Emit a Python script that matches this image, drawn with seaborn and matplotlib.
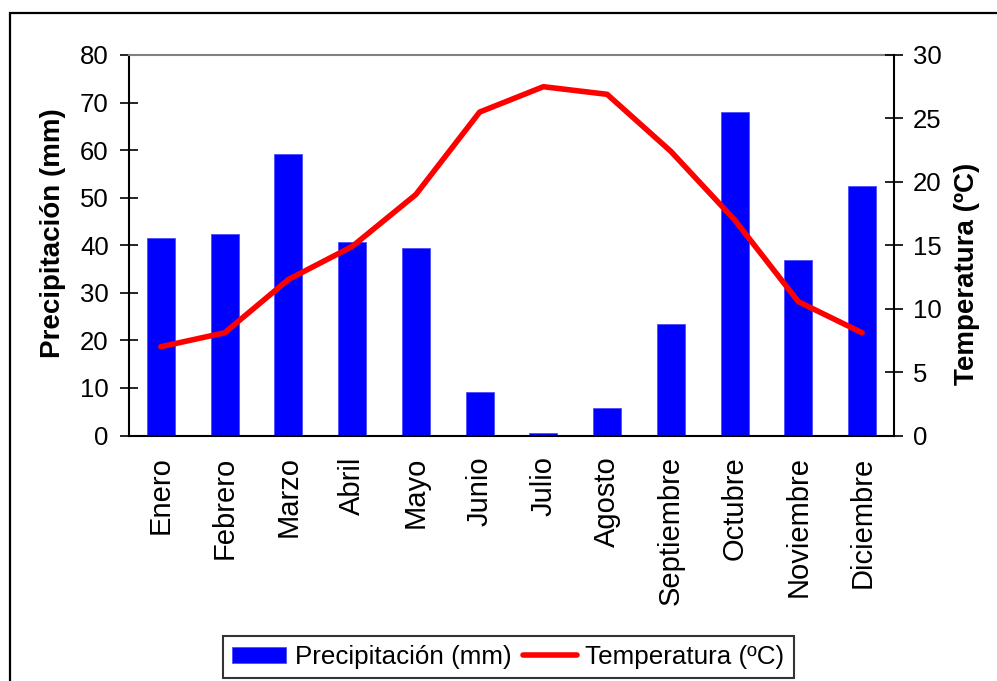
import numpy as np
import matplotlib
matplotlib.use("Agg")
import matplotlib.pyplot as plt
from matplotlib.patches import Rectangle
import seaborn as sns

# Monthly climate data
months = ["Enero", "Febrero", "Marzo", "Abril", "Mayo", "Junio", "Julio",
          "Agosto", "Septiembre", "Octubre", "Noviembre", "Diciembre"]
precip_mm = [41.5, 42.4, 59.2, 40.7, 39.4, 9.1, 0.6, 5.7, 23.4, 68.1, 36.9, 52.5]
temp_c = [7.0, 8.1, 12.3, 14.9, 19.0, 25.5, 27.5, 26.9, 22.4, 17.0, 10.55, 8.1]

precip_ticks = [0, 10, 20, 30, 40, 50, 60, 70, 80]
temp_ticks = [0, 5, 10, 15, 20, 25, 30]

sns.set_theme(style="white")
plt.rcParams["font.family"] = ["Liberation Sans", "DejaVu Sans"]
plt.rcParams.update({"text.color": "black", "axes.labelcolor": "black",
                     "xtick.color": "black", "ytick.color": "black"})

W, H = 997, 681
fig = plt.figure(figsize=(W / 100, H / 100), dpi=100)
ax = fig.add_axes([129 / W, 1 - 435.5 / H, (894 - 129) / W, (435.5 - 55) / H])
ax2 = ax.twinx()

# Precipitation bars
sns.barplot(x=months, y=precip_mm, color="#0000FF", saturation=1, width=0.44,
            edgecolor="#4d4dff", linewidth=0.6, ax=ax, label="Precipitación (mm)")

# Temperature line
positions = np.arange(len(months))
sns.lineplot(x=positions, y=temp_c, color="#FF0000", linewidth=4, ax=ax2,
             label="Temperatura (ºC)", legend=False)

ax.set_xlim(-0.5, len(months) - 0.5)
ax.set_ylim(0, 80)
ax2.set_ylim(0, 30)
ax.set_yticks(precip_ticks)
ax2.set_yticks(temp_ticks)

# Ticks at category boundaries, labels at category centers
ax.set_xticks(np.arange(-0.5, len(months), 1.0))
ax.set_xticklabels([])
ax.set_xticks(positions, minor=True)
ax.set_xticklabels(months, minor=True, rotation=90, fontsize=21, va="top", ha="center")
ax.tick_params(axis="x", which="minor", length=0, pad=15)
ax.tick_params(axis="x", which="major", direction="inout", length=14, width=1.2, color="black")
ax.tick_params(axis="y", direction="inout", length=13, width=1.2, color="black",
               labelsize=18.5, pad=8, left=True)
ax2.tick_params(axis="y", direction="inout", length=13, width=1.2, color="black",
                labelsize=18.5, pad=7, right=True)
ax.set_xlabel("")
ax.grid(False)
ax2.grid(False)

ax.set_ylabel("Precipitación (mm)", fontsize=20, fontweight="bold", va="center")
ax.yaxis.set_label_coords(-0.099, 0.531)
ax2.set_ylabel("Temperatura (ºC)", fontsize=20, fontweight="bold", va="center",
               rotation=90)
ax2.yaxis.set_label_coords(1.095, 0.424)

for a in (ax, ax2):
    for s in a.spines.values():
        s.set_linewidth(1.5)
        s.set_color("black")
ax.spines["right"].set_visible(False)
ax2.spines["left"].set_visible(False)
ax2.spines["bottom"].set_visible(False)
ax2.spines["top"].set_visible(False)
ax.spines["top"].set_color("#808080")

# Outer chart frame
fig.patches.append(Rectangle((9.5 / W, -0.05), 1.1, 1 - 12.5 / H + 0.05,
                             transform=fig.transFigure, fill=False,
                             edgecolor="black", linewidth=1.6, zorder=0))

h1, l1 = ax.get_legend_handles_labels()
h2, l2 = ax2.get_legend_handles_labels()
leg = fig.legend(h1 + h2, l1 + l2, loc="upper center",
                 bbox_to_anchor=(508.5 / W, 1 - 636 / H), ncol=2,
                 fontsize=18.7, frameon=True, fancybox=False, borderaxespad=0,
                 handlelength=2.08, handleheight=0.6, handletextpad=0.32,
                 columnspacing=0.45, borderpad=0.35)
leg.get_frame().set_edgecolor("black")
leg.get_frame().set_linewidth(1.5)
if ax.get_legend() is not None:
    ax.get_legend().remove()

fig.savefig("out.png", dpi=100, facecolor="white")
